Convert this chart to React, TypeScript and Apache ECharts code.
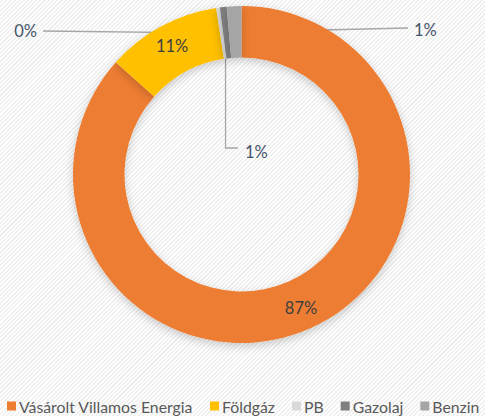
import React, { useEffect, useRef } from "react";
import * as echarts from "echarts";

const categories = ["Vásárolt Villamos Energia", "Földgáz", "PB", "Gazolaj", "Benzin"];
const values = [86.6, 11.0, 0.35, 0.65, 1.4];
const colors = ["#ED7D31", "#FFC000", "#D9D9D9", "#7F7F7F", "#A5A5A5"];
const outsideLabel = [false, false, true, true, true];

export default function App() {
  const ref = useRef<HTMLDivElement>(null);
  useEffect(() => {
    const el = ref.current;
    if (!el) return;
    const chart = echarts.init(el, undefined, { renderer: "svg" });
    const font = "Lato, 'Open Sans', sans-serif";
    const data = categories.map((name, i) => ({
      name,
      value: values[i],
      itemStyle: { color: colors[i] },
      label: outsideLabel[i]
        ? { position: "outside", color: "#44546A" }
        : { position: "inside", color: "#404040" },
      labelLine: { show: outsideLabel[i], length: 10, length2: 10 },
    }));
    chart.setOption({
      animation: false,
      backgroundColor: "transparent",
      legend: {
        left: 7,
        top: 398,
        padding: 0,
        icon: "rect",
        itemWidth: 9,
        itemHeight: 9,
        itemGap: 17,
        data: categories,
        textStyle: { fontFamily: font, fontSize: 15.8, color: "#595959", padding: [0, 0, 0, -2] },
      },
      series: [
        {
          type: "pie",
          center: [241.5, 174.5],
          radius: [117, 168.5],
          startAngle: 90,
          clockwise: true,
          avoidLabelOverlap: false,
          itemStyle: {
            shadowBlur: 10,
            shadowColor: "rgba(0,0,0,0.2)",
            shadowOffsetY: 3,
          },
          label: {
            show: true,
            fontFamily: font,
            fontSize: 16.5,
            formatter: (p: any) => Math.round(p.percent) + "%",
          },
          labelLine: {
            lineStyle: { color: "#A6A6A6", width: 1.3 },
          },
          labelLayout: (p: any) => {
            const r = p.rect;
            const ax = r.x + r.width / 2;
            const ay = r.y + r.height / 2;
            if (p.dataIndex === 2) {
              return {
                x: 37, y: 31, align: "right", verticalAlign: "middle", hideOverlap: false,
                labelLinePoints: [[ax, ay], [43, 31], [43, 31]],
              };
            }
            if (p.dataIndex === 3) {
              return {
                x: 245, y: 152, align: "left", verticalAlign: "middle", hideOverlap: false,
                labelLinePoints: [[ax, ay], [ax, 148], [238, 148]],
              };
            }
            if (p.dataIndex === 4) {
              return {
                x: 414, y: 30, align: "left", verticalAlign: "middle", hideOverlap: false,
                labelLinePoints: [[ax, ay], [408, 28], [408, 28]],
              };
            }
            return {};
          },
          data,
        },
      ],
    });
    return () => chart.dispose();
  }, []);
  return (
    <div
      style={{
        position: "fixed",
        left: 0,
        top: 0,
        width: 485,
        height: 416,
        background:
          "repeating-linear-gradient(-45deg, #ffffff 0px, #ffffff 1.5px, #efefef 1.5px, #efefef 3px)",
      }}
    >
      <div ref={ref} style={{ width: 485, height: 416 }} />
    </div>
  );
}
